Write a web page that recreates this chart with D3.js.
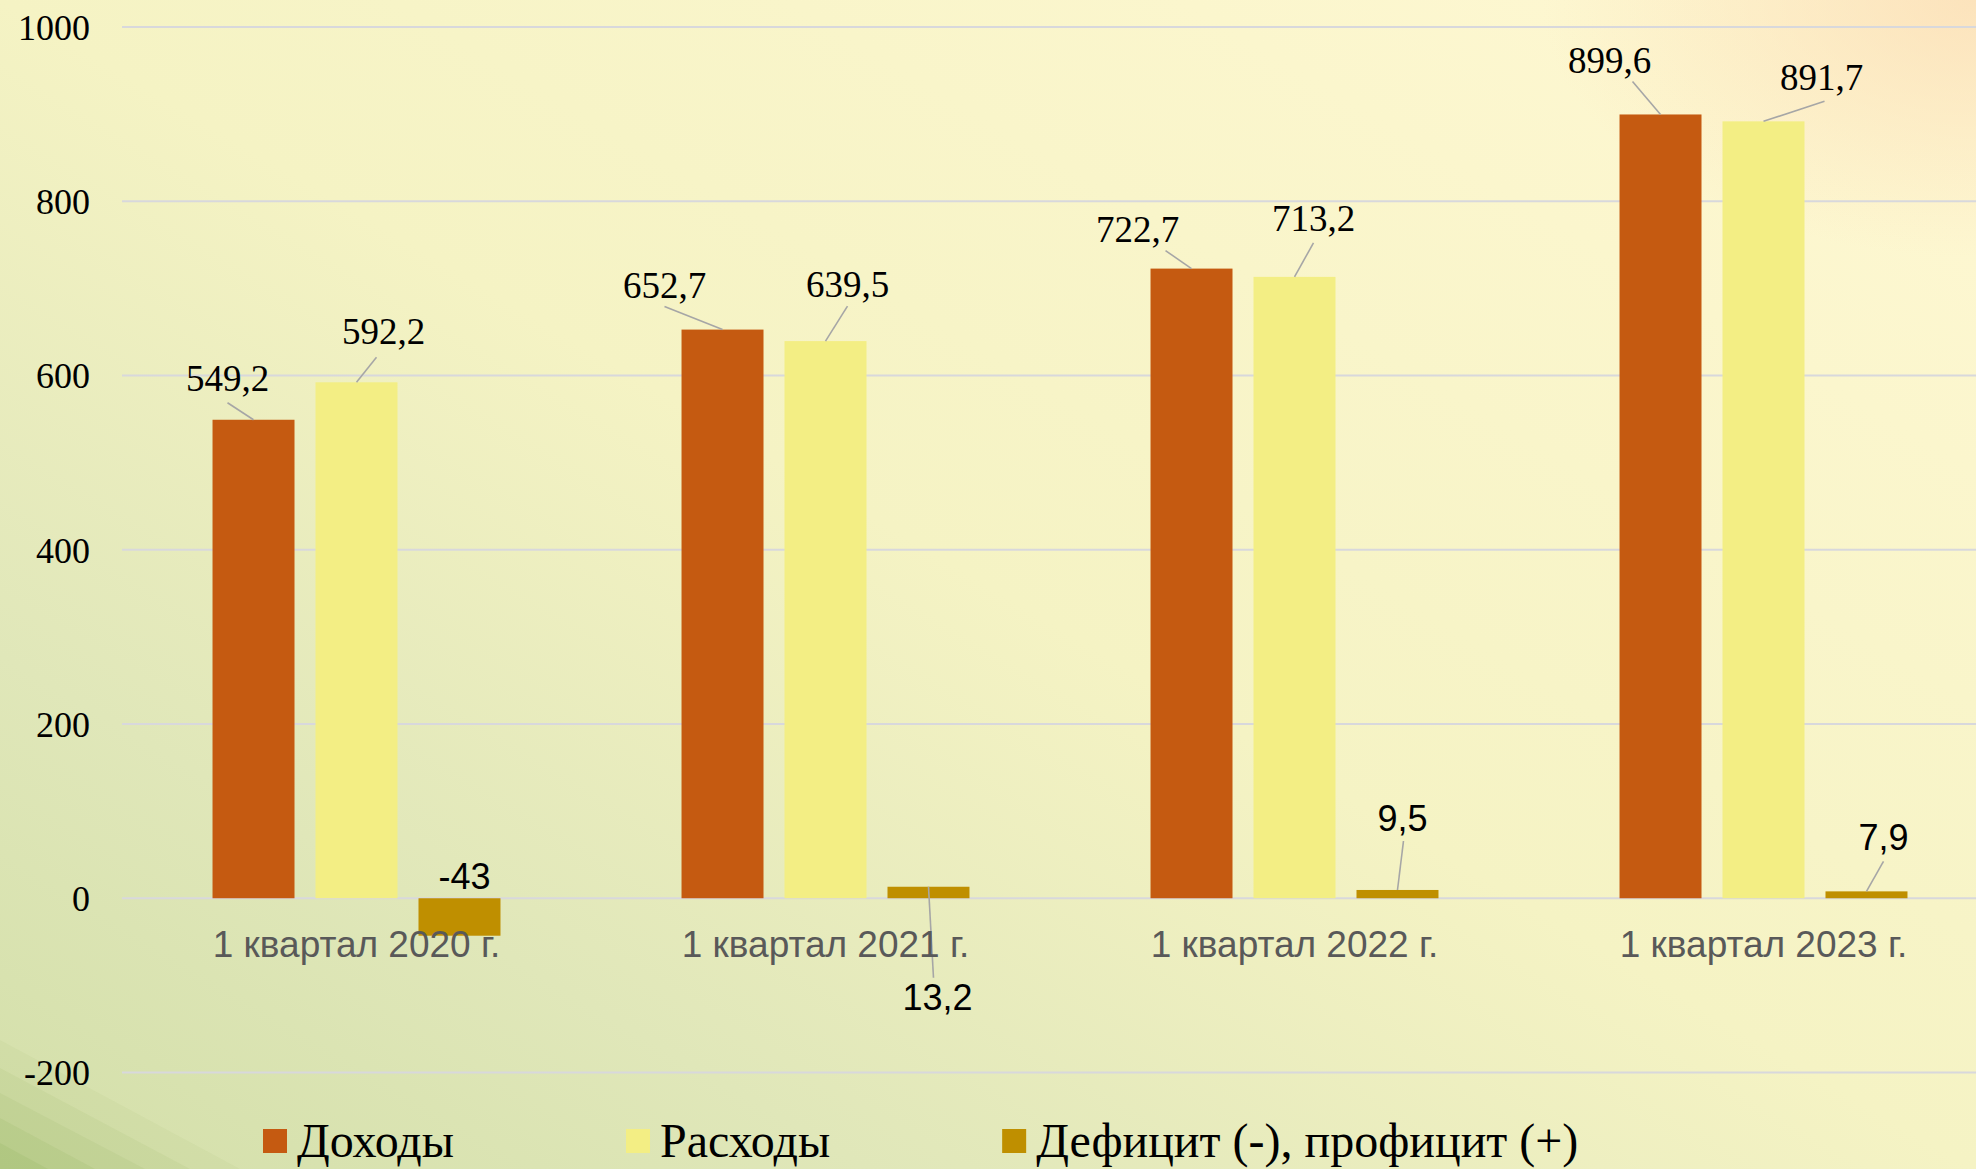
<!DOCTYPE html>
<html>
<head>
<meta charset="utf-8">
<script src="https://cdn.jsdelivr.net/npm/d3@7/dist/d3.min.js"></script>
<style>
html,body{margin:0;padding:0;overflow:hidden;background:#f5f3c4;}
svg{display:block;}
</style>
</head>
<body>
<svg id="chart" width="1976" height="1169"></svg>
<script>
// ---- data ----
const categories = ["1 квартал 2020 г.", "1 квартал 2021 г.", "1 квартал 2022 г.", "1 квартал 2023 г."];
const seriesNames = ["Доходы", "Расходы", "Дефицит (-), профицит (+)"];
const incomeValues = [549.2, 652.7, 722.7, 899.6];
const expenseValues = [592.2, 639.5, 713.2, 891.7];
const balanceValues = [-43, 13.2, 9.5, 7.9];
const valueLabels = [
  ["549,2", "652,7", "722,7", "899,6"],
  ["592,2", "639,5", "713,2", "891,7"],
  ["-43", "13,2", "9,5", "7,9"]
];
const yTicks = [-200, 0, 200, 400, 600, 800, 1000];

// ---- style / layout ----
const colors = ["#C55A11", "#F3EE84", "#BF8F00"];
const W = 1976, H = 1169;
// label offsets relative to bar top centre: [labelDx, labelDy, leaderDx, leaderDy] (leader null => none)
const labelLayout = [
  [[-26,-42,-26,-17],[-58,-45,-58,-23],[-54,-40,-26,-18],[-51,-55,-28,-33]],
  [[27,-52,20,-25],[22,-57,22,-35],[19,-59,19,-34],[58,-45,61,-20]],
  [[5,-22,null,null],[9,110,5,91],[5,-72,6,-49],[17,-54,17,-30]]
];

const svg = d3.select("#chart");

// ---- background ----
const defs = svg.append("defs");
const lg = defs.append("linearGradient").attr("id","bg")
  .attr("x1","0").attr("y1","1").attr("x2","1").attr("y2","0");
[[0,"#d3dfa9"],[0.22,"#e0e7b9"],[0.5,"#f5f3c4"],[0.8,"#fbf6cd"],[1,"#fff8d4"]]
  .forEach(s=>lg.append("stop").attr("offset",s[0]).attr("stop-color",s[1]));
const rg = defs.append("radialGradient").attr("id","peach")
  .attr("cx","1").attr("cy","0").attr("r","0.22");
rg.append("stop").attr("offset",0).attr("stop-color","#fbdcb4").attr("stop-opacity",0.75);
rg.append("stop").attr("offset",1).attr("stop-color","#fbdcb4").attr("stop-opacity",0);
svg.append("rect").attr("width",W).attr("height",H).attr("fill","url(#bg)");
svg.append("rect").attr("width",W).attr("height",H).attr("fill","url(#peach)");
// corner stripes bottom-left
const stripes = [[0,1040,240,1169,0.05],[0,1068,190,1169,0.07],[0,1093,145,1169,0.08],[0,1118,95,1169,0.09],[0,1143,48,1169,0.1]];
stripes.forEach(s=>{
  svg.append("path").attr("d",`M${s[0]},${s[1]} L${s[2]},${s[3]} L0,${H} Z`)
    .attr("fill","#6f9a3a").attr("opacity",s[4]);
});

// ---- scales ----
const y = d3.scaleLinear().domain([-200,1000]).range([1072.5,27]);
const x0 = d3.scaleBand().domain(categories).range([122,1998]).paddingInner(0).paddingOuter(0);
const x1 = d3.scaleBand().domain(d3.range(3)).range([0,x0.bandwidth()]).paddingInner(0.204).paddingOuter(0.879);

// ---- gridlines ----
svg.append("g").selectAll("line").data(yTicks).join("line")
  .attr("x1",122).attr("x2",W).attr("y1",d=>y(d)).attr("y2",d=>y(d))
  .attr("stroke","#d8d8dc").attr("stroke-width",2);

// y axis labels
const yAxis = d3.axisLeft(y).tickValues(yTicks).tickSize(0).tickPadding(0).tickFormat(d=>String(d));
const ya = svg.append("g").attr("transform","translate(90,0)").call(yAxis);
ya.select(".domain").remove();
ya.selectAll("text").attr("font-family","'Liberation Serif','Times New Roman',serif")
  .attr("font-size",36).attr("fill","#000").attr("dy","0.34em");

// ---- bars ----
const allValues = [incomeValues, expenseValues, balanceValues];
const groups = svg.append("g").selectAll("g").data(categories).join("g")
  .attr("transform",d=>`translate(${x0(d)},0)`);
groups.each(function(cat,ci){
  const g = d3.select(this);
  allValues.forEach((vals,si)=>{
    const v = vals[ci];
    g.append("rect").attr("x",x1(si)).attr("width",x1.bandwidth())
      .attr("y",y(Math.max(0,v))).attr("height",Math.abs(y(v)-y(0)))
      .attr("fill",colors[si]);
  });
});

// ---- data labels ----
const lblG = svg.append("g");
allValues.forEach((vals,si)=>{
  vals.forEach((v,ci)=>{
    const bx = x0(categories[ci]) + x1(si) + x1.bandwidth()/2;
    const by = y(Math.max(0,v));
    const L = labelLayout[si][ci];
    if (L[2]!==null){
      lblG.append("line").attr("x1",bx).attr("y1",by).attr("x2",bx+L[2]).attr("y2",by+L[3])
        .attr("stroke","#a6a6a6").attr("stroke-width",1.6);
    }
    lblG.append("text").attr("x",bx+L[0]).attr("y",by+L[1]).attr("dy","0.36em")
      .attr("text-anchor","middle")
      .attr("font-family", si===2 ? "'Liberation Sans',Arial,sans-serif" : "'Liberation Serif','Times New Roman',serif")
      .attr("font-size",si===2 ? 36 : 37).attr("fill","#000").text(valueLabels[si][ci]);
  });
});

// ---- category labels ----
svg.append("g").selectAll("text").data(categories).join("text")
  .attr("x",d=>x0(d)+x0.bandwidth()/2).attr("y",957)
  .attr("text-anchor","middle").attr("font-family","'Liberation Sans',Arial,sans-serif")
  .attr("font-size",37).attr("fill","#595959").text(d=>d);

// ---- legend ----
const leg = svg.append("g");
let lx = 263;
seriesNames.forEach((name,i)=>{
  leg.append("rect").attr("x",lx).attr("y",1129).attr("width",24).attr("height",24).attr("fill",colors[i]);
  const t = leg.append("text").attr("x",lx+34).attr("y",1157)
    .attr("font-family","'Liberation Serif','Times New Roman',serif")
    .attr("font-size",48).attr("fill","#000").text(name);
  lx = lx + 34 + t.node().getComputedTextLength() + 172;
});
</script>
</body>
</html>
